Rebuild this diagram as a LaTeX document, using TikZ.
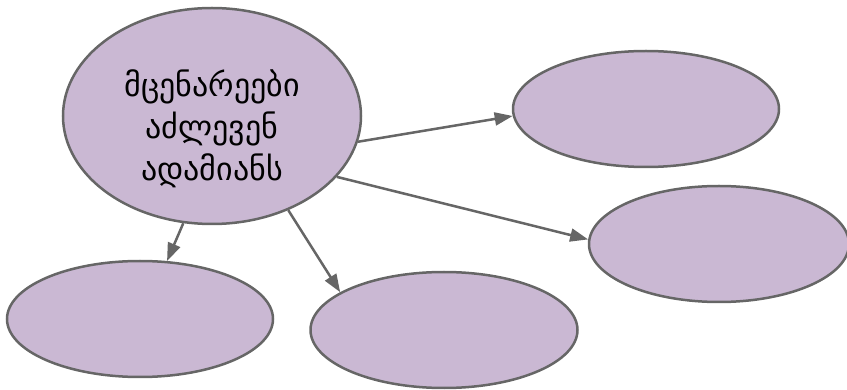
\documentclass[tikz,border=0pt]{standalone}
\usepackage{fontspec}
\usetikzlibrary{positioning,shapes.geometric,arrows.meta}
\newfontfamily\georgianfont[Script=Georgian]{DejaVu Sans}
\definecolor{plantfill}{RGB}{202,184,211}
\definecolor{plantline}{RGB}{102,102,102}
\tikzset{
    plant bubble/.style={
        ellipse,
        fill=plantfill,
        draw=plantline,
        line width=2.5pt,
        inner sep=0pt,
        align=center,
        font=\georgianfont\fontsize{32}{42}\selectfont
    },
    leaf bubble/.style={
        plant bubble,
        minimum width=266pt,
        minimum height=116pt
    },
    plant arrow/.style={
        draw=plantline,
        line width=2.5pt,
        -{Triangle[length=18pt,width=13pt]}
    }
}

\begin{document}
\begin{tikzpicture}[x=1pt,y=-1pt]
    \useasboundingbox (0,0) rectangle (847,390);

    %Centre bubble and the five empty ones around it
    \node[plant bubble,minimum width=298pt,minimum height=216pt,text height=130pt,text depth=0pt] (plants) at (212,116) {მცენარეები\\აძლევენ\\ადამიანს};
    \node[leaf bubble] (give-top) at (646,109) {};
    \node[leaf bubble,minimum width=260pt] (give-right) at (719,244) {};
    \node[leaf bubble] (give-left) at (140,319) {};
    \node[leaf bubble,minimum width=267pt] (give-mid) at (444,330) {};

    \draw[plant arrow] (plants.-10.5) -- (give-top.183);
    \draw[plant arrow] (plants.-26) -- (give-right.178);
    \draw[plant arrow] (plants.-105) -- (give-left.65);
    \draw[plant arrow] (plants.-51) -- (give-mid.160);
\end{tikzpicture}
\end{document}
